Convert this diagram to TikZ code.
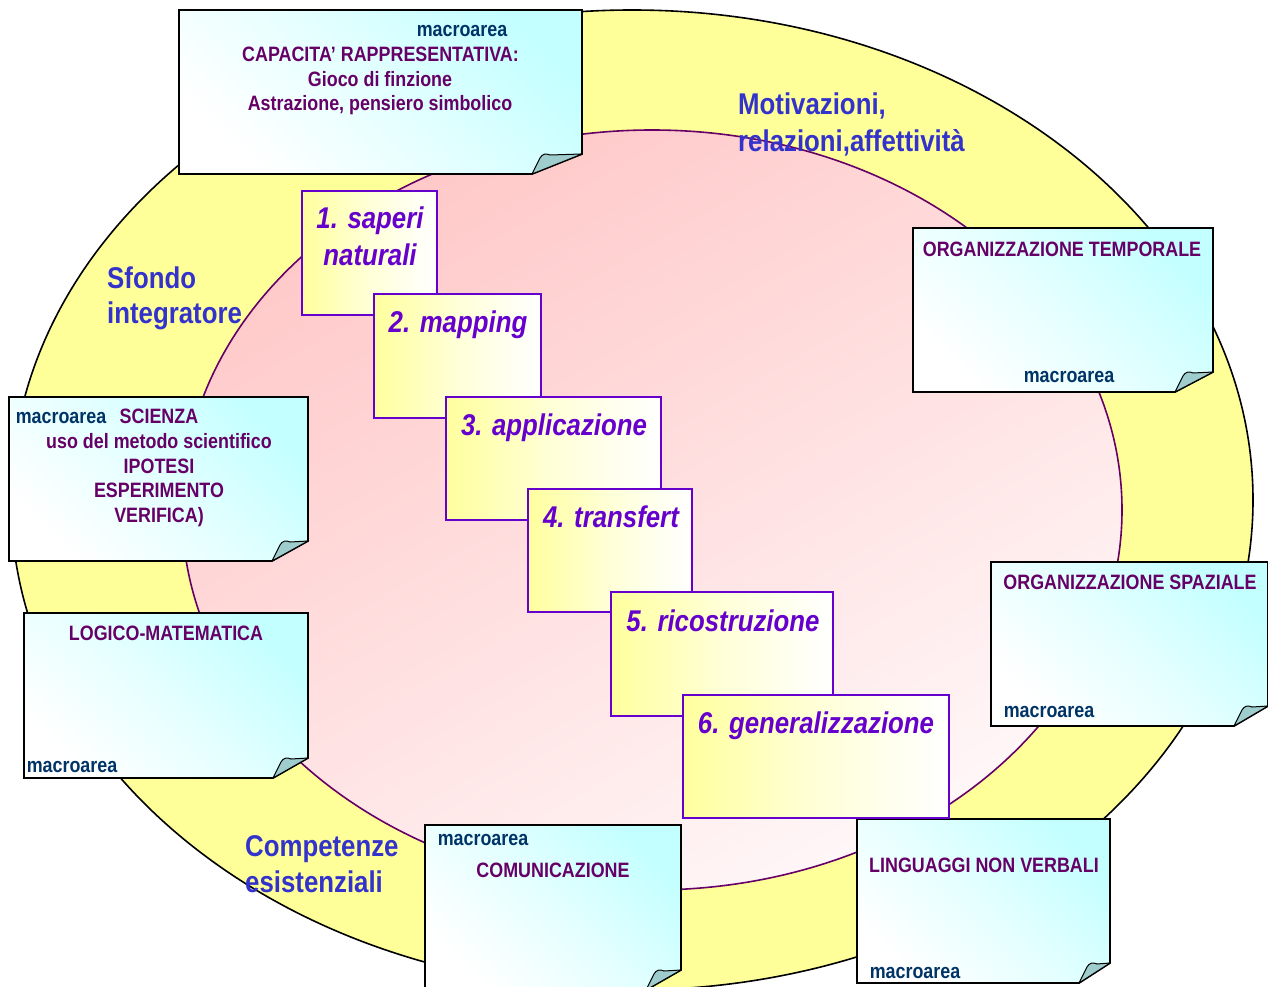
\documentclass[tikz,border=0pt]{standalone}
\usepackage{fontspec}
\setmainfont{Liberation Sans}[FakeStretch=0.86]
\definecolor{ntext}{HTML}{660066}
\definecolor{macro}{HTML}{003366}
\definecolor{lblue}{HTML}{3333CC}
\definecolor{vio}{HTML}{6600CC}
\definecolor{ell}{HTML}{FFFF99}
\definecolor{pinkf}{HTML}{FFC8C8}
\definecolor{pinkl}{HTML}{FFF7F8}
\definecolor{ncyan}{HTML}{C4FFFF}
\definecolor{ncyanm}{HTML}{E4FFFF}
\definecolor{foldc}{HTML}{9FCCCC}
\definecolor{stepy}{HTML}{FFFF9E}
\definecolor{stepm}{HTML}{FFFFD8}
\tikzset{
  notebody/.style={draw=black, line width=1.8pt, line join=miter, top color=ncyan, bottom color=white, middle color=ncyanm, shading angle=-45},
  notefold/.style={draw=black, line width=1pt, fill=foldc, line join=round},
  stepbox/.style={draw=vio, line width=1.8pt, left color=stepy, right color=white, middle color=stepm},
  nt/.style={text=ntext, font=\fontsize{20.8}{24}\selectfont\bfseries, inner sep=0pt, anchor=base},
  mac/.style={text=macro, font=\fontsize{20.8}{24}\selectfont\bfseries, inner sep=0pt, anchor=base},
  lbl/.style={text=lblue, font=\fontsize{30}{36}\selectfont\bfseries, inner sep=0pt, anchor=base west},
  stxt/.style={text=vio, font=\fontsize{30}{36}\selectfont\bfseries\itshape, inner sep=0pt, anchor=base},
}
% shaded shapes are drawn with an upward y axis (coordinates negated)
\newcommand\mynote[5]{%
  \begin{scope}[y=1pt]
  \path[notebody] (#1,-#2) -- (#3,-#2) -- (#3,-#4+20) -- (#3-#5,-#4) -- (#1,-#4) -- cycle;
  \path[notefold] (#3-#5,-#4) -- (#3-#5+8,-#4+16) .. controls (#3-#5+10,-#4+20) and (#3-#5+14,-#4+21) .. (#3-#5+18,-#4+19) -- (#3,-#4+20) -- cycle;
  \end{scope}
}
\newcommand\mystep[4]{%
  \begin{scope}[y=1pt]
  \path[stepbox] (#1,-#2) -- (#3,-#2) -- (#3,-#4) -- (#1,-#4) -- cycle;
  \end{scope}
}
\begin{document}
\begin{tikzpicture}[x=1pt,y=-1pt]
\useasboundingbox (0,0) rectangle (1268,987);
\fill[white] (0,0) rectangle (1268,987);
% ellipses
\path[draw=black, line width=1.6pt, fill=ell] (632,500) ellipse [x radius=621, y radius=490];
\begin{scope}[y=1pt]
\path[draw=ntext, line width=1.6pt, top color=pinkf, bottom color=pinkl, shading angle=30] (652,-510) ellipse [x radius=470, y radius=380];
\end{scope}
% blue labels
\node[lbl] (l1) at (738,115) {Motivazioni,};
\node[lbl] (l2) at (738,152) {relazioni,affettività};
\node[lbl] (l3) at (107,288) {Sfondo};
\node[lbl] (l4) at (107,323) {integratore};
\node[lbl] (l5) at (245,856) {Competenze};
\node[lbl] (l6) at (245,892) {esistenziali};
% notes
\mynote{179}{10}{582}{174}{50}
\node[mac] (m1) at (462,37) {macroarea};
\node[nt] (a1) at (380.5,62) {CAPACITA’ RAPPRESENTATIVA:};
\node[nt] (a2) at (380,87) {Gioco di finzione};
\node[nt] (a3) at (380,111) {Astrazione, pensiero simbolico};

\mynote{913}{228}{1213}{392}{38}
\node[nt] (b1) at (1062,256) {ORGANIZZAZIONE TEMPORALE};
\node[mac] (m2) at (1069,382) {macroarea};

\mynote{9}{397}{308}{561}{36}
\node[mac] (m3) at (61,423) {macroarea};
\node[nt] (c1) at (159,423) {SCIENZA};
\node[nt] (c2) at (159,448) {uso del metodo scientifico};
\node[nt] (c3) at (159,473) {IPOTESI};
\node[nt] (c4) at (159,497) {ESPERIMENTO};
\node[nt] (c5) at (159,522) {VERIFICA)};

\mynote{24}{613}{308}{778}{35}
\node[nt] (d1) at (166,640) {LOGICO-MATEMATICA};
\node[mac] (m4) at (72,772) {macroarea};

\mynote{991}{562}{1268}{726}{34}
\node[nt] (e1) at (1130,589) {ORGANIZZAZIONE SPAZIALE};
\node[mac] (m5) at (1049,717) {macroarea};

\mynote{425}{825}{681}{990}{35}
\node[mac] (m6) at (483,845) {macroarea};
\node[nt] (f1) at (553,877) {COMUNICAZIONE};

\mynote{857}{819}{1110}{983}{31}
\node[nt] (g1) at (984,872) {LINGUAGGI NON VERBALI};
\node[mac] (m7) at (915,978) {macroarea};
% steps
\mystep{302}{191}{437}{315}
\node[stxt] (t1a) at (370,228) {1. saperi};
\node[stxt] (t1b) at (370,265) {naturali};
\mystep{374}{294}{541}{418}
\node[stxt] (t2) at (458,332) {2. mapping};
\mystep{446}{397}{661}{520}
\node[stxt] (t3) at (554,435) {3. applicazione};
\mystep{528}{489}{692}{612}
\node[stxt] (t4) at (611,527) {4. transfert};
\mystep{611}{592}{833}{716}
\node[stxt] (t5) at (723,631) {5. ricostruzione};
\mystep{683}{695}{949}{818}
\node[stxt] (t6) at (816,733) {6. generalizzazione};
\end{tikzpicture}
\end{document}
